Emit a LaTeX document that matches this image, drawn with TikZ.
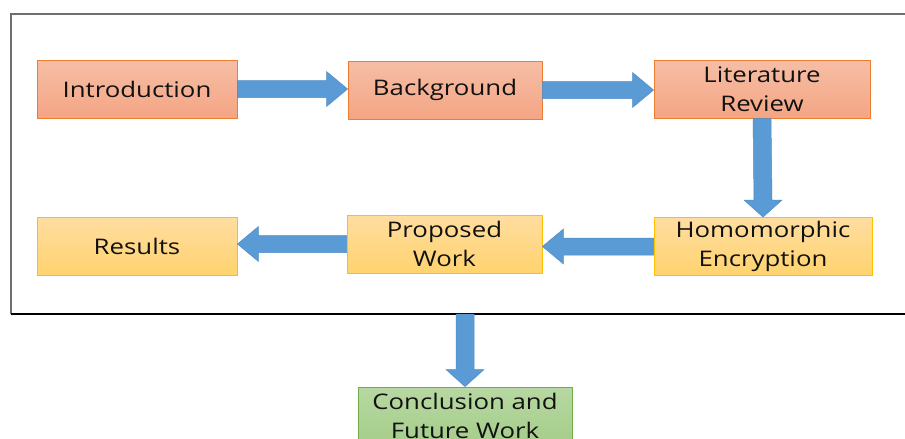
\documentclass[tikz,border=0pt]{standalone}
\usepackage{fontspec}
\setmainfont{Open Sans}[FakeStretch=1.2]
\usetikzlibrary{calc}
\definecolor{arrowblue}{HTML}{5B9BD5}
\definecolor{arrowedge}{HTML}{4F8CC6}
\definecolor{orangetop}{HTML}{F6BEA5}
\definecolor{orangebot}{HTML}{F4A584}
\definecolor{orangeedge}{HTML}{ED7D31}
\definecolor{yellowtop}{HTML}{FFDDA0}
\definecolor{yellowbot}{HTML}{FFD36E}
\definecolor{yellowedge}{HTML}{FFC000}
\definecolor{greentop}{HTML}{B7D8A2}
\definecolor{greenbot}{HTML}{A5CD8A}
\definecolor{greenedge}{HTML}{70AD47}
\definecolor{framegray}{HTML}{6E6E6E}
\definecolor{textdark}{HTML}{111111}
\tikzset{
  stagebox/.style={rectangle, minimum height=58pt, inner sep=0pt, line width=0.9pt,
    align=center, font=\fontsize{21.5}{29}\selectfont, text=textdark},
  orangebox/.style={stagebox, draw=orangeedge, top color=orangetop, bottom color=orangebot},
  yellowbox/.style={stagebox, draw=yellowedge, top color=yellowtop, bottom color=yellowbot},
  greenbox/.style={stagebox, draw=greenedge, top color=greentop, bottom color=greenbot},
  blockarrow/.style={fill=arrowblue, draw=arrowedge, line width=0.5pt, line join=miter},
}
% block arrows between two named nodes: shaft half width 8.5, head half width 17.5, head length 21
\newcommand{\rightblock}[2]{%
  \path[blockarrow] ($(#1.east)+(0,-8.5)$) -- ($(#2.west |- #1.east)+(-21,-8.5)$)
    -- ($(#2.west |- #1.east)+(-21,-17.5)$) -- (#2.west |- #1.east)
    -- ($(#2.west |- #1.east)+(-21,17.5)$) -- ($(#2.west |- #1.east)+(-21,8.5)$)
    -- ($(#1.east)+(0,8.5)$) -- cycle;}
\newcommand{\leftblock}[2]{%
  \path[blockarrow] ($(#1.west)+(0,-8.5)$) -- ($(#2.east |- #1.west)+(21,-8.5)$)
    -- ($(#2.east |- #1.west)+(21,-17.5)$) -- (#2.east |- #1.west)
    -- ($(#2.east |- #1.west)+(21,17.5)$) -- ($(#2.east |- #1.west)+(21,8.5)$)
    -- ($(#1.west)+(0,8.5)$) -- cycle;}
\newcommand{\downblock}[2]{%
  \path[blockarrow] ($(#1)+(-9,0)$) -- ($(#2.north)+(-9,-17)$) -- ($(#2.north)+(-19,-17)$)
    -- (#2.north) -- ($(#2.north)+(19,-17)$) -- ($(#2.north)+(9,-17)$) -- ($(#1)+(9,0)$) -- cycle;}
\begin{document}
\begin{tikzpicture}[x=1pt,y=-1pt]
  \useasboundingbox (0,0) rectangle (905,439);
  \clip (0,0) rectangle (905,439);
  \fill[white] (0,0) rectangle (905,439);

  % outer frame, open at the right
  \draw[framegray, line width=1.3pt] (11,314) -- (11,14) -- (910,14);
  \draw[black, line width=1.2pt] (11,314) -- (910,314);

  % first row
  \node[orangebox, minimum width=200pt] (intro) at (137,89) {Introduction};
  \node[orangebox, minimum width=194pt] (back) at (445,90) {Background};
  \node[orangebox, minimum width=216pt] (lit) at (762,89) {Literature\\Review};

  % second row
  \node[yellowbox, minimum width=218pt] (homo) at (763,246.5) {Homomorphic\\Encryption};
  \node[yellowbox, minimum width=195pt] (prop) at (444.5,244) {Proposed\\Work};
  \node[yellowbox, minimum width=200pt] (res) at (137,246.5) {Results};

  % closing stage below the frame
  \node[greenbox, minimum width=214pt] (concl) at (465,416) {Conclusion and\\Future Work};
  \coordinate (framebottom) at (465,314);

  % connectors
  \rightblock{intro}{back}
  \rightblock{back}{lit}
  \downblock{lit.south}{homo}
  \leftblock{homo}{prop}
  \leftblock{prop}{res}
  \downblock{framebottom}{concl}
\end{tikzpicture}
\end{document}
